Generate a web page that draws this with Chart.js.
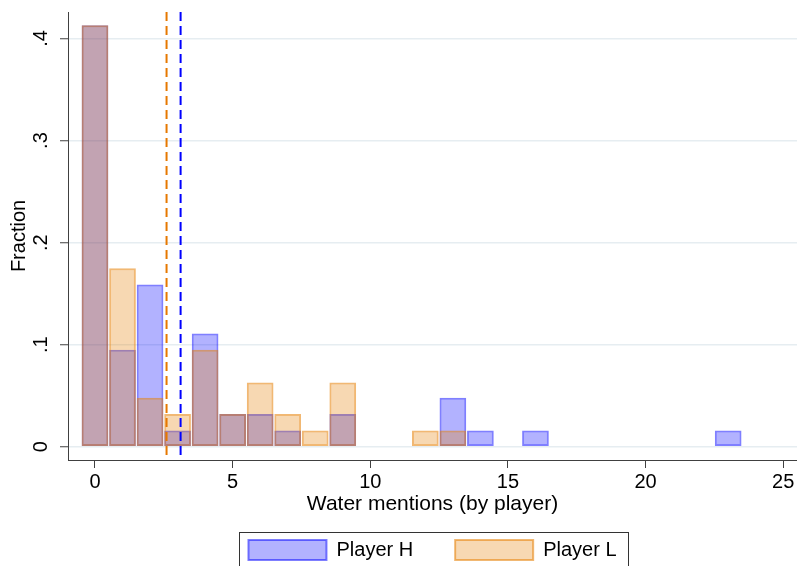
<!DOCTYPE html>
<html lang="en">
<head>
    <meta charset="UTF-8">
    <title>Water mentions</title>
    <script src="https://cdn.jsdelivr.net/npm/chart.js@4.4.0/dist/chart.umd.min.js"></script>
    <style>
        html, body { margin: 0; padding: 0; background: #ffffff; }
        .chart-container { position: relative; width: 797px; height: 566px; }
    </style>
</head>
<body>
    <div class="chart-container">
        <canvas id="histChart"></canvas>
    </div>
    <script>
        // bins (water mentions, bin width 1) and fractions
        const bins = [0, 1, 2, 3, 4, 5, 6, 7, 8, 9, 10, 11, 12, 13, 14, 15, 16, 17, 18, 19, 20, 21, 22, 23];
        const fracH = [.413, .095, .159, .016, .111, .032, .032, .016, 0, .032, 0, 0, 0, .048, .016, 0, .016, 0, 0, 0, 0, 0, 0, .016];
        const fracL = [.413, .175, .048, .032, .095, .032, .063, .032, .016, .063, 0, 0, .016, .016, 0, 0, 0, 0, 0, 0, 0, 0, 0, 0];
        // means (dashed lines)
        const meanH = 3.11;
        const meanL = 2.60;
        const xTicks = [0, 5, 10, 15, 20, 25];
        const yTicks = [0, .1, .2, .3, .4];
        const yTickLabels = ['0', '.1', '.2', '.3', '.4'];

        const blue = 'rgb(0, 0, 255)';
        const orange = 'rgb(230, 120, 0)';
        const font = "'Liberation Sans', Arial, sans-serif";

        function toPoints(values) {
            return bins.map((b, i) => ({ x: b, y: values[i] > 0 ? values[i] : null }));
        }

        // dashed mean lines
        const meanLines = {
            id: 'meanLines',
            afterDatasetsDraw(chart) {
                const { ctx, chartArea, scales } = chart;
                [[meanL, orange], [meanH, blue]].forEach(([v, c]) => {
                    const x = scales.x.getPixelForValue(v);
                    ctx.save();
                    ctx.strokeStyle = c;
                    ctx.lineWidth = 2;
                    ctx.setLineDash([9, 5]);
                    ctx.beginPath();
                    ctx.moveTo(x, chartArea.top);
                    ctx.lineTo(x, chartArea.bottom);
                    ctx.stroke();
                    ctx.restore();
                });
            }
        };

        // frame around the legend
        const legendFrame = {
            id: 'legendFrame',
            afterDraw(chart) {
                const boxes = chart.legend.legendHitBoxes;
                if (!boxes || !boxes.length) return;
                const first = boxes[0], last = boxes[boxes.length - 1];
                const ctx = chart.ctx;
                ctx.save();
                ctx.strokeStyle = '#333333';
                ctx.lineWidth = 1;
                ctx.strokeRect(Math.round(first.left - 9) + 0.5, Math.round(first.top - 8) + 0.5,
                    Math.round(last.left + last.width + 12 - (first.left - 9)), 60);
                ctx.restore();
            }
        };

        const ctx = document.getElementById('histChart').getContext('2d');
        new Chart(ctx, {
            type: 'bar',
            data: {
                datasets: [{
                    label: 'Player H',
                    data: toPoints(fracH),
                    backgroundColor: 'rgba(0, 0, 255, 0.3)',
                    borderColor: 'rgba(0, 0, 255, 0.5)',
                    borderWidth: 2,
                    borderSkipped: false,
                    order: 1
                }, {
                    label: 'Player L',
                    data: toPoints(fracL),
                    backgroundColor: 'rgba(230, 125, 0, 0.3)',
                    borderColor: 'rgba(230, 125, 0, 0.55)',
                    borderWidth: 2,
                    borderSkipped: false,
                    order: 0
                }]
            },
            options: {
                responsive: true,
                maintainAspectRatio: false,
                animation: false,
                grouped: false,
                barPercentage: 0.97,
                categoryPercentage: 1,
                layout: { padding: 0 },
                plugins: {
                    tooltip: { enabled: false },
                    legend: {
                        position: 'bottom',
                        fullSize: false,
                        maxHeight: 68,
                        labels: {
                            sort: (a, b) => a.datasetIndex - b.datasetIndex,
                            boxWidth: 78,
                            boxHeight: 20,
                            padding: 42,
                            color: '#000',
                            font: { family: font, size: 20 }
                        }
                    }
                },
                scales: {
                    x: {
                        type: 'linear',
                        min: -0.98,
                        max: 25.5,
                        offset: false,
                        afterBuildTicks: s => { s.ticks = xTicks.map(v => ({ value: v })); },
                        afterFit: s => { s.height = 38; s.paddingLeft = 0; s.paddingRight = 0; },
                        grid: {
                            offset: false,
                            drawOnChartArea: false,
                            tickLength: 8,
                            tickColor: '#404040',
                            tickWidth: 1
                        },
                        border: { color: '#404040', width: 1 },
                        ticks: {
                            padding: 2,
                            color: '#000',
                            font: { family: font, size: 20 },
                            maxRotation: 0
                        },
                        title: {
                            display: true,
                            text: 'Water mentions (by player)',
                            color: '#000',
                            font: { family: font, size: 21 },
                            padding: { top: 0, bottom: -19 }
                        }
                    },
                    y: {
                        min: -0.013,
                        max: 0.426,
                        afterBuildTicks: s => { s.ticks = yTicks.map(v => ({ value: v })); },
                        afterFit: s => { s.width = 68; s.paddingTop = 12; s.paddingBottom = 0; },
                        grid: {
                            color: '#e6edf1',
                            lineWidth: 1.5,
                            tickLength: 8,
                            tickColor: '#404040',
                            tickWidth: 1
                        },
                        border: { color: '#404040', width: 1 },
                        ticks: {
                            padding: 10,
                            minRotation: 90,
                            maxRotation: 90,
                            crossAlign: 'center',
                            color: '#000',
                            font: { family: font, size: 20 },
                            callback: (v) => yTickLabels[yTicks.indexOf(v)]
                        },
                        title: {
                            display: true,
                            text: 'Fraction',
                            color: '#000',
                            font: { family: font, size: 20 },
                            padding: { top: 7, bottom: 0 }
                        }
                    }
                }
            },
            plugins: [meanLines, legendFrame]
        });
    </script>
</body>
</html>
